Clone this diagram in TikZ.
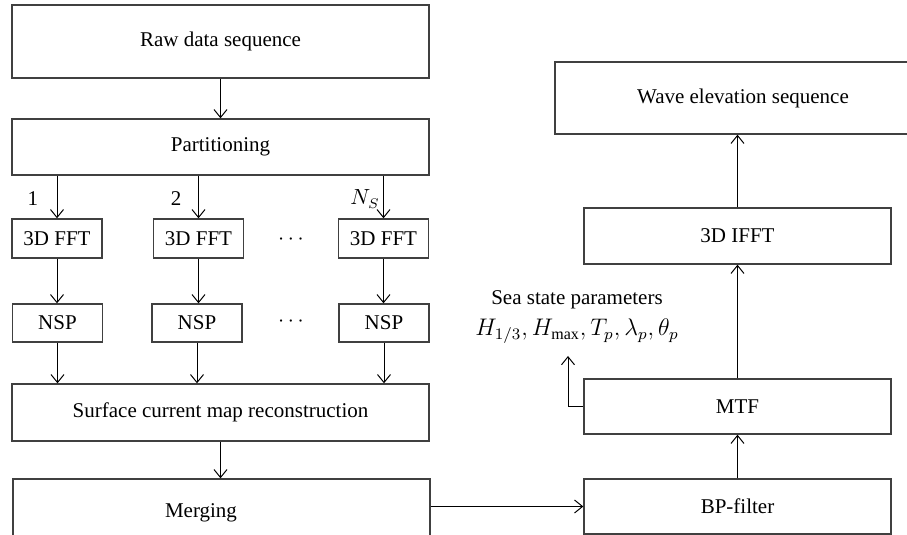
\documentclass[tikz,border=0pt]{standalone}
\usepackage{fontspec}
\setmainfont{Liberation Serif}
\usetikzlibrary{arrows.meta}

\begin{document}
\begin{tikzpicture}[x=0.5pt,y=-0.5pt,
    font=\fontsize{10.5}{12.5}\selectfont,
    line width=0.5pt,
    >={Straight Barb[length=4pt,width=6.5pt]},
    box/.style = {
      draw = black!75,
      line width = 0.7pt,
      inner sep = 0pt
    },
    widebox/.style = {
      box,
      minimum width = 208.5pt,
      minimum height = 28pt
    },
    smallbox/.style = {
      box,
      minimum width = 45pt,
      minimum height = 19.5pt
    },
    rightbox/.style = {
      box,
      minimum width = 153.5pt,
      minimum height = 28pt
    }
  ]
  \useasboundingbox (0,0) rectangle (907,535);
  \clip (0,0) rectangle (907,535);

  % left column
  \draw (220.5,41.5)  node[widebox,minimum height=36.5pt] (raw) {Raw data sequence};
  \draw (220.5,147)   node[widebox] (part) {Partitioning};
  \draw (57,238.5)    node[smallbox] (fft1) {3D FFT};
  \draw (198.5,238.5) node[smallbox] (fft2) {3D FFT};
  \draw (383.5,238.5) node[smallbox] (fft3) {3D FFT};
  \draw (57.5,323)    node[smallbox,minimum height=19pt] (nsp1) {NSP};
  \draw (197,323)     node[smallbox,minimum height=19pt] (nsp2) {NSP};
  \draw (384,323)     node[smallbox,minimum height=19pt] (nsp3) {NSP};
  \draw (291,240)     node (dots1) {$\cdots$};
  \draw (291,322)     node (dots2) {$\cdots$};
  \draw (220.5,412.5) node[widebox,minimum height=28.5pt] (surf) {Surface current map reconstruction};
  \draw (221.5,529)   node[widebox,minimum height=50pt] (merge) {};
  \draw (201,513)     node (mergetext) {Merging};

  % right column
  \draw (743,98)      node[box,minimum width=188pt,minimum height=36pt] (wave) {Wave elevation sequence};
  \draw (737.5,236)   node[rightbox] (ifft) {3D IFFT};
  \draw (737.5,406.5) node[rightbox,minimum height=27.5pt] (mtf) {MTF};
  \draw (737.5,506.5) node[rightbox,minimum height=27.5pt] (bp) {BP-filter};
  \draw (577,317)     node[align=center] (params) {Sea state parameters\\[3pt]
    \large$H_{1/3}, H_{\max}, T_p, \lambda_p, \theta_p$};
  \coordinate (ptip) at (568,356);

  % labels of the partitions
  \draw (33,199)  node (n1) {1};
  \draw (176,199) node (n2) {2};
  \draw (365,199) node (n3) {$N_S$};

  % connectors
  \draw [->] (raw) -- (part);
  \draw [->] (part.south -| fft1.north) -- (fft1.north);
  \draw [->] (part.south -| fft2.north) -- (fft2.north);
  \draw [->] (part.south -| fft3.north) -- (fft3.north);
  \draw [->] (fft1.south) -- (fft1.south |- nsp1.north);
  \draw [->] (fft2.south) -- (fft2.south |- nsp2.north);
  \draw [->] (fft3.south) -- (fft3.south |- nsp3.north);
  \draw [->] (nsp1.south) -- (nsp1.south |- surf.north);
  \draw [->] (nsp2.south) -- (nsp2.south |- surf.north);
  \draw [->] (nsp3.south) -- (nsp3.south |- surf.north);
  \draw [->] (surf.south) -- (surf.south |- merge.north);
  \draw [->] (bp.west -| merge.east) -- (bp.west);
  \draw [->] (bp) -- (mtf);
  \draw [->] (mtf) -- (ifft);
  \draw [->] (ifft.north) -- (ifft.north |- wave.south);
  \draw [->] (mtf.west) -| (ptip);
\end{tikzpicture}
\end{document}
